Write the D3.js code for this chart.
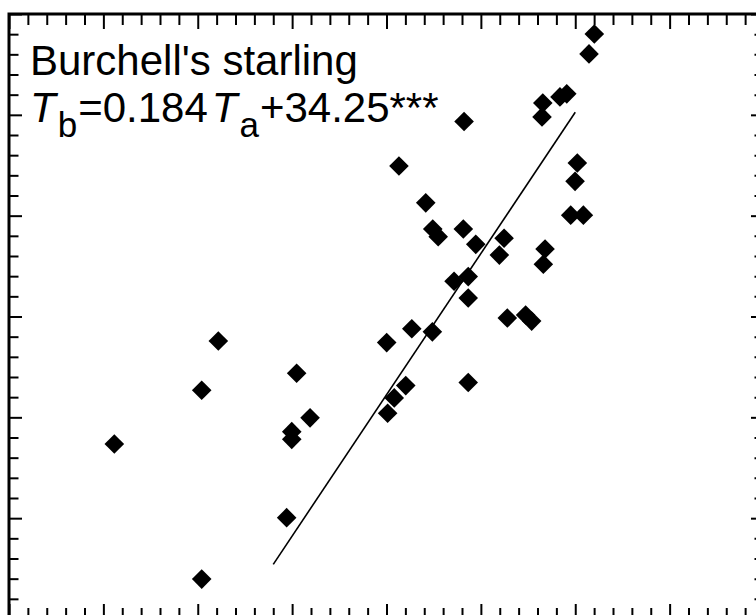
<!DOCTYPE html>
<html>
<head>
<meta charset="utf-8">
<script src="https://cdn.jsdelivr.net/npm/d3@7/dist/d3.min.js"></script>
<style>
  html, body { margin: 0; padding: 0; background: #fff; }
  svg { display: block; }
</style>
</head>
<body>
<svg id="chart" width="756" height="615"></svg>
<script>
// Burchell's starling: body temperature (Tb) against air temperature (Ta), °C
const airTemp = [
  15.58, 20.21, 21.09, 20.21, 25.24, 24.98, 24.98, 25.95, 24.71, 30.01,
  31.34, 32.43, 31.02, 30.41, 30.06, 34.33, 36.40, 37.37, 37.69, 33.58,
  34.33, 34.33, 30.66, 32.08, 32.45, 32.74, 34.07, 34.73, 36.23, 35.98,
  38.40, 38.31, 39.76, 40.43, 40.11, 39.99, 34.11, 38.28, 38.24, 39.19,
  39.55, 40.73, 41.01
];
const bodyTemp = [
  39.45, 39.80, 40.12, 38.57, 39.91, 39.53, 39.48, 39.62, 38.97, 40.11,
  40.20, 40.18, 39.83, 39.75, 39.65, 39.85, 40.27, 40.29, 40.25, 40.51,
  40.54, 40.40, 41.26, 41.02, 40.85, 40.80, 40.85, 40.75, 40.79, 40.68,
  40.72, 40.62, 40.94, 40.94, 41.28, 41.16, 41.55, 41.67, 41.58, 41.71,
  41.73, 41.99, 42.12
];

// Regression Tb = 0.184 Ta + 34.25, drawn over the fitted Ta range
const fitSlope = 0.184;
const fitIntercept = 34.25;
const fitRange = [24, 40];

// Axis extents and tick steps (ticks are unlabelled)
const xDomain = [10, 50];
const xMajorStep = 5;
const xMinorStep = 1;
const yDomain = [38.31, 42.25];
const yDivisions = 6;   // major divisions
const yMinorPerMajor = 5;

const titleText = "Burchell's starling";

const svg = d3.select("#chart");
const margin = { left: 9, top: 14, right: 764, bottom: 619 };

const x = d3.scaleLinear().domain(xDomain).range([margin.left, margin.right]);
const y = d3.scaleLinear().domain(yDomain).range([margin.bottom, margin.top]);

svg.append("rect").attr("width", 756).attr("height", 615).attr("fill", "#fff");

// tick positions
const xMajor = d3.range(xDomain[0], xDomain[1] + 1e-9, xMajorStep);
const xMinor = d3.range(xDomain[0], xDomain[1] + 1e-9, xMinorStep).filter(v => !xMajor.some(m => Math.abs(m - v) < 1e-9));
const yMajorStep = (yDomain[1] - yDomain[0]) / yDivisions;
const yMinorStep = yMajorStep / yMinorPerMajor;
const yAll = d3.range(0, yDivisions * yMinorPerMajor + 1).map(i => yDomain[0] + i * yMinorStep);
const yMajor = yAll.filter((v, i) => i % yMinorPerMajor === 0);
const yMinor = yAll.filter((v, i) => i % yMinorPerMajor !== 0);

const axes = svg.append("g").attr("class", "axes");

function addAxis(gen, vals, size, transform) {
  const g = axes.append("g")
    .attr("transform", transform)
    .call(gen.tickValues(vals).tickSize(size).tickSizeOuter(0).tickFormat(""));
  g.select(".domain").remove();
  g.selectAll(".tick line").attr("stroke", "#000").attr("stroke-width", 2);
}

// top edge: ticks pointing down
addAxis(d3.axisBottom(x), xMinor, 11, `translate(0,${margin.top})`);
addAxis(d3.axisBottom(x), xMajor, 15, `translate(0,${margin.top})`);
// bottom edge: ticks pointing up
addAxis(d3.axisTop(x), xMinor, 11, `translate(0,${margin.bottom})`);
addAxis(d3.axisTop(x), xMajor, 15, `translate(0,${margin.bottom})`);
// left edge: ticks pointing right
addAxis(d3.axisRight(y), yMinor, 9.5, `translate(${margin.left},0)`);
addAxis(d3.axisRight(y), yMajor, 13, `translate(${margin.left},0)`);
// right edge: ticks pointing left
addAxis(d3.axisLeft(y), yMinor, 9.5, `translate(${margin.right},0)`);
addAxis(d3.axisLeft(y), yMajor, 13, `translate(${margin.right},0)`);

// frame
svg.append("rect")
  .attr("x", margin.left).attr("y", margin.top)
  .attr("width", margin.right - margin.left)
  .attr("height", margin.bottom - margin.top)
  .attr("fill", "none").attr("stroke", "#000").attr("stroke-width", 3);

// regression line
const line = d3.line().x(d => x(d)).y(d => y(fitSlope * d + fitIntercept));
svg.append("path")
  .datum(fitRange)
  .attr("d", line)
  .attr("fill", "none")
  .attr("stroke", "#000")
  .attr("stroke-width", 1.6);

// diamond markers
const r = 9.8;
const diamond = `M0,${-r}L${r},0L0,${r}L${-r},0Z`;
svg.append("g").selectAll("path")
  .data(d3.zip(airTemp, bodyTemp))
  .join("path")
  .attr("d", diamond)
  .attr("transform", d => `translate(${x(d[0])},${y(d[1])})`)
  .attr("fill", "#000");

// caption
const font = "'Liberation Sans', Arial, Helvetica, sans-serif";
svg.append("text")
  .attr("x", 30).attr("y", 75)
  .attr("font-family", font).attr("font-size", 42)
  .attr("fill", "#000")
  .text(titleText);

const eq = svg.append("text")
  .attr("x", 30).attr("y", 121.5)
  .attr("font-family", font).attr("font-size", 42)
  .attr("fill", "#000");
eq.append("tspan").attr("font-style", "italic").text("T");
eq.append("tspan").attr("font-size", 35).attr("dx", 2).attr("dy", 15).text("b");
eq.append("tspan").attr("dx", 1).attr("dy", -15).text("=" + fitSlope.toFixed(3));
eq.append("tspan").attr("dx", 4).attr("font-style", "italic").text("T");
eq.append("tspan").attr("font-size", 35).attr("dx", 2).attr("dy", 15).text("a");
eq.append("tspan").attr("dx", 1).attr("dy", -15).text("+" + fitIntercept.toFixed(2) + "***");
</script>
</body>
</html>
